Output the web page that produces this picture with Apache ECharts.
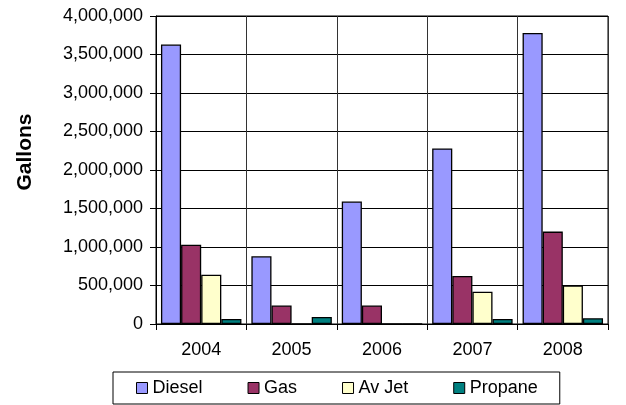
<!DOCTYPE html>
<html>
<head>
<meta charset="utf-8">
<script src="https://cdn.jsdelivr.net/npm/echarts@6/dist/echarts.min.js"></script>
<style>
  html, body { margin: 0; padding: 0; background: #fff; }
  #chart { width: 626px; height: 405px; }
</style>
</head>
<body>
<div id="chart"></div>
<script>
// data
const years = ['2004', '2005', '2006', '2007', '2008'];
const diesel = [3630000, 880000, 1590000, 2280000, 3780000];
const gas = [1030000, 240000, 240000, 625000, 1200000];
const avJet = [640000, 0, 0, 420000, 500000];
const propane = [65000, 90000, 0, 65000, 75000];

const seriesNames = ['Diesel', 'Gas', 'Av Jet', 'Propane'];
const seriesColors = ['#9999FF', '#993366', '#FFFFCC', '#008080'];
const seriesData = [diesel, gas, avJet, propane];

const font = 'Arial, "Liberation Sans", sans-serif';

const chart = echarts.init(document.getElementById('chart'), null, { renderer: 'canvas' });

const option = {
  animation: false,
  backgroundColor: '#fff',
  textStyle: { fontFamily: font },
  grid: {
    left: 156,
    right: 18,
    top: 16,
    bottom: 81,
    show: true,
    borderColor: '#000',
    borderWidth: 1
  },
  // y axis title sits a bit above the plot middle, so draw it as text
  graphic: [{
    type: 'text',
    x: 25,
    y: 152,
    rotation: Math.PI / 2,
    style: {
      text: 'Gallons',
      align: 'center',
      verticalAlign: 'middle',
      fontFamily: font,
      fontSize: 21,
      fontWeight: 'bold',
      fill: '#000'
    }
  }],
  legend: {
    data: seriesNames,
    left: 113,
    top: 372,
    orient: 'horizontal',
    icon: 'rect',
    itemWidth: 11,
    itemHeight: 11,
    itemGap: 45,
    padding: [7, 22, 7, 23],
    borderColor: '#000',
    borderWidth: 1,
    textStyle: { fontFamily: font, fontSize: 18, color: '#000' },
    itemStyle: { borderColor: '#000', borderWidth: 1 }
  },
  xAxis: {
    type: 'category',
    data: years,
    axisLine: { lineStyle: { color: '#000', width: 1 } },
    axisTick: { show: true, length: 6, lineStyle: { color: '#000' } },
    axisLabel: { fontFamily: font, fontSize: 18, color: '#000', margin: 17 },
    splitLine: { show: true, lineStyle: { color: '#333', width: 1 } }
  },
  yAxis: {
    type: 'value',
    min: 0,
    max: 4000000,
    interval: 500000,
    axisLine: { show: true, lineStyle: { color: '#000', width: 1 } },
    axisTick: { show: true, length: 6, lineStyle: { color: '#000' } },
    axisLabel: {
      fontFamily: font,
      fontSize: 18,
      color: '#000',
      margin: 13,
      formatter: v => v.toLocaleString('en-US')
    },
    splitLine: { show: true, lineStyle: { color: '#000', width: 1 } }
  },
  series: seriesNames.map((name, i) => ({
    name: name,
    type: 'bar',
    data: seriesData[i],
    barGap: '0%',
    barCategoryGap: '11%',
    itemStyle: {
      color: seriesColors[i],
      borderColor: '#000',
      borderWidth: 1.3
    }
  }))
};

chart.setOption(option);
</script>
</body>
</html>
